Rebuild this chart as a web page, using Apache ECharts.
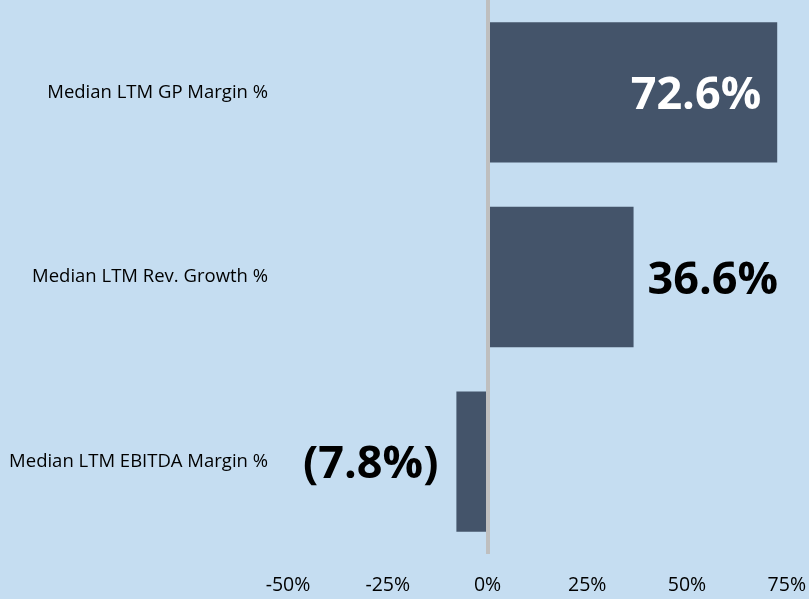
<!DOCTYPE html>
<html>
<head>
<meta charset="utf-8">
<script src="https://cdn.jsdelivr.net/npm/echarts@6/dist/echarts.min.js"></script>
<style>
  html, body { margin: 0; padding: 0; background: #c5ddf1; }
  #chart { width: 809px; height: 599px; }
</style>
</head>
<body>
<div id="chart"></div>
<script>
// 中位数指标横向条形图
var categories = ['Median LTM GP Margin %', 'Median LTM Rev. Growth %', 'Median LTM EBITDA Margin %'];
var values = [72.6, 36.6, -7.8];
var labelPos = ['insideRight', 'right', 'left'];
var labelColors = ['#ffffff', '#000000', '#000000'];
var xTicks = [-50, -25, 0, 25, 50, 75];

function fmtPct(v) {
    return v < 0 ? '(' + Math.abs(v).toFixed(1) + '%)' : v.toFixed(1) + '%';
}

var myChart = echarts.init(document.getElementById('chart'));
var option = {
    backgroundColor: '#c5ddf1',
    animation: false,
    grid: {
        left: 288,
        right: 20,
        top: 0,
        bottom: 45
    },
    xAxis: {
        type: 'value',
        min: xTicks[0],
        max: xTicks[xTicks.length - 1],
        interval: 25,
        axisLine: { show: false },
        axisTick: { show: false },
        splitLine: { show: false },
        axisLabel: {
            formatter: '{value}%',
            color: '#000',
            fontSize: 19.5,
            fontFamily: 'Open Sans',
            margin: 21
        }
    },
    yAxis: {
        type: 'category',
        inverse: true,
        data: categories,
        axisLine: { show: false },
        axisTick: { show: false },
        splitLine: { show: false },
        axisLabel: {
            color: '#000',
            fontSize: 18.5,
            fontFamily: 'Open Sans',
            margin: 20,
            padding: [5, 0, 0, 0]
        }
    },
    series: [
        {
            type: 'bar',
            barWidth: '76%',
            itemStyle: { color: '#44546a' },
            data: values.map(function (v, i) {
                return {
                    value: v,
                    label: {
                        show: true,
                        position: labelPos[i],
                        distance: i === 0 ? 16 : (i === 1 ? 14 : 18),
                        offset: [0, 4],
                        color: labelColors[i],
                        fontSize: 45,
                        fontWeight: 'bold',
                        fontFamily: 'Open Sans',
                        formatter: function (p) { return fmtPct(p.value); }
                    }
                };
            }),
            markLine: {
                silent: true,
                symbol: 'none',
                label: { show: false },
                lineStyle: { color: '#bfbfbf', width: 4, type: 'solid' },
                data: [{ xAxis: 0 }]
            }
        }
    ]
};
myChart.setOption(option);
</script>
</body>
</html>
